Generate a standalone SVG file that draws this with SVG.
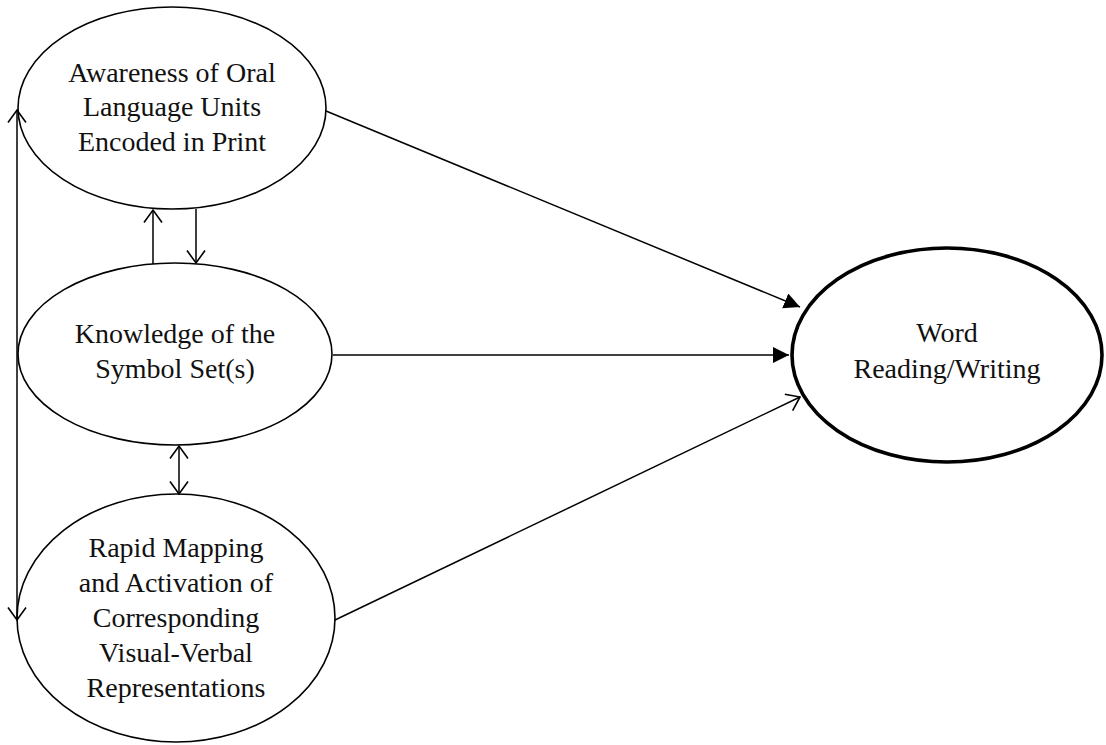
<svg xmlns="http://www.w3.org/2000/svg" width="1106" height="745" viewBox="0 0 1106 745">
  <style>
    .node { fill: #ffffff; stroke: #000000; stroke-width: 1.6; }
    .node.outcome { stroke-width: 3.6; }
    .label { font-family: "Liberation Serif", "Times New Roman", serif; font-size: 28px; fill: #111111; text-anchor: middle; }
    .link { fill: none; stroke: #000000; stroke-width: 1.5; }
  </style>
  <defs>
    <marker id="open" markerUnits="userSpaceOnUse" markerWidth="16" markerHeight="22" viewBox="-1 -1 16 22" refX="12.5" refY="9" orient="auto-start-reverse">
      <path d="M0,0 L12.5,9 L0,18" fill="none" stroke="#000" stroke-width="1.6"/>
    </marker>
    <marker id="filled" markerUnits="userSpaceOnUse" markerWidth="18" markerHeight="18" viewBox="0 0 18 18" refX="16" refY="8" orient="auto">
      <path d="M0,0 L16,8 L0,16 Z" fill="#000"/>
    </marker>
  </defs>

  <!-- nodes -->
  <g id="awareness">
    <ellipse class="node" cx="172" cy="108" rx="154" ry="101"/>
    <text class="label" x="172" y="82">Awareness of Oral</text>
    <text class="label" x="172" y="116">Language Units</text>
    <text class="label" x="172" y="151">Encoded in Print</text>
  </g>

  <g id="knowledge">
    <ellipse class="node" cx="175" cy="354" rx="157" ry="91"/>
    <text class="label" x="175" y="343">Knowledge of the</text>
    <text class="label" x="175" y="378">Symbol Set(s)</text>
  </g>

  <g id="rapid-mapping">
    <ellipse class="node" cx="176" cy="618" rx="159" ry="124"/>
    <text class="label" x="176" y="557">Rapid Mapping</text>
    <text class="label" x="176" y="592">and Activation of</text>
    <text class="label" x="176" y="627">Corresponding</text>
    <text class="label" x="176" y="662">Visual-Verbal</text>
    <text class="label" x="176" y="697">Representations</text>
  </g>

  <g id="word-reading">
    <ellipse class="node outcome" cx="947" cy="355" rx="155" ry="107"/>
    <text class="label" x="947" y="342">Word</text>
    <text class="label" x="947" y="378">Reading/Writing</text>
  </g>

  <!-- connectors, drawn above the nodes so arrowheads overlap the outlines -->
  <g id="connectors">
    <line class="link" x1="17" y1="110" x2="17" y2="620" marker-start="url(#open)" marker-end="url(#open)"/>
    <line class="link" x1="153" y1="264" x2="153" y2="210" marker-end="url(#open)"/>
    <line class="link" x1="196" y1="209" x2="196" y2="263" marker-end="url(#open)"/>
    <line class="link" x1="179" y1="446" x2="179" y2="494" marker-start="url(#open)" marker-end="url(#open)"/>
    <line class="link" x1="326" y1="111" x2="800" y2="307" marker-end="url(#filled)"/>
    <line class="link" x1="333" y1="355" x2="789" y2="355" marker-end="url(#filled)"/>
    <line class="link" x1="335" y1="620" x2="800" y2="397" marker-end="url(#open)"/>
  </g>
</svg>
